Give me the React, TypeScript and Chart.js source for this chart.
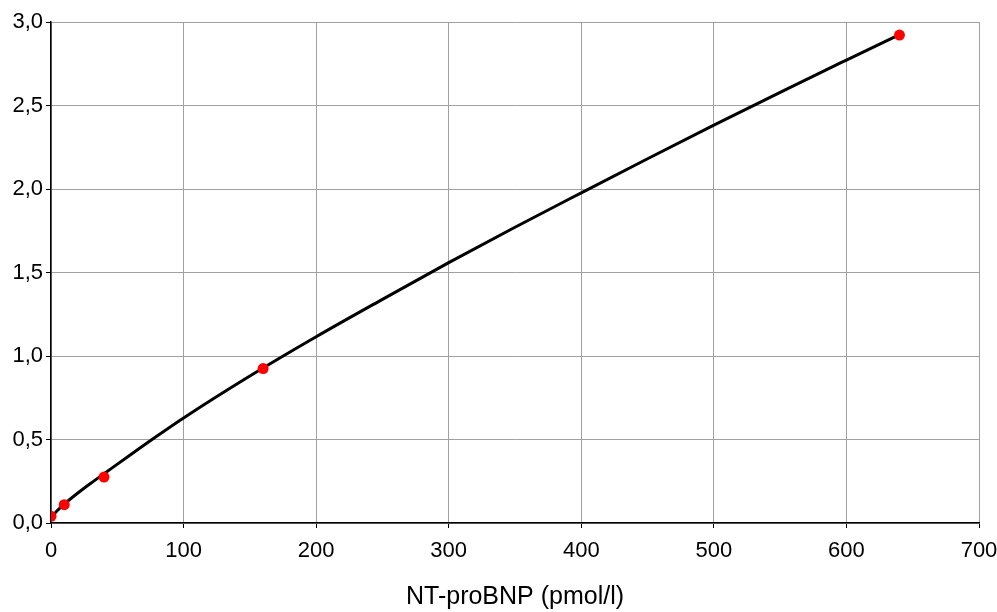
import React, { useEffect, useRef } from "react";
import { Chart, registerables } from "chart.js";

Chart.register(...registerables);

const pointX = [0, 10, 40, 160, 640];
const pointY = [0.04, 0.11, 0.275, 0.925, 2.922];

const curveX = [0, 2, 5, 10, 20, 30, 40, 60, 80, 100, 150, 200, 250, 300, 350, 400, 450, 500, 550, 600, 640];
const curveY = [0.03, 0.05, 0.076, 0.113, 0.178, 0.238, 0.295, 0.409, 0.521, 0.629, 0.88, 1.115, 1.339, 1.559, 1.771, 1.977, 2.181, 2.382, 2.579, 2.772, 2.925];

const xTitle = "NT-proBNP (pmol/l)";
const FONT = "'Liberation Sans', Arial, sans-serif";

export default function App() {
  const ref = useRef<HTMLCanvasElement>(null);
  useEffect(() => {
    document.body.style.margin = "0";
    const ctx = ref.current!;
    const chart = new Chart(ctx, {
      type: "scatter",
      data: {
        datasets: [
          {
            data: pointX.map((x, i) => ({ x, y: pointY[i] })),
            backgroundColor: "#ff0000",
            borderColor: "#ff0000",
            pointRadius: 5.5,
            pointHoverRadius: 5.5,
            borderWidth: 0,
            showLine: false,
            order: 0,
          },
          {
            data: curveX.map((x, i) => ({ x, y: curveY[i] })),
            borderColor: "#000000",
            borderWidth: 3,
            pointRadius: 0,
            showLine: true,
            cubicInterpolationMode: "monotone",
            order: 1,
          },
        ],
      },
      options: {
        animation: false,
        responsive: true,
        maintainAspectRatio: false,
        layout: { padding: { left: 0, top: 22, right: 18, bottom: 0 } },
        plugins: { legend: { display: false }, tooltip: { enabled: false } },
        scales: {
          x: {
            type: "linear",
            min: 0,
            max: 700,
            afterFit: (s: any) => {
              s.height = 89;
              s.paddingRight = 18;
              s.paddingLeft = 0;
            },
            ticks: {
              stepSize: 100,
              color: "#000",
              padding: 10,
              font: { family: FONT, size: 22 },
              maxRotation: 0,
            },
            grid: { color: "#a0a0a0", tickColor: "#000", tickLength: 5, lineWidth: 1 },
            border: { color: "#000", width: 1.5 },
            title: {
              display: true,
              text: xTitle,
              color: "#000",
              font: { family: FONT, size: 25 },
              padding: { top: 0, bottom: 0 },
            },
          },
          y: {
            type: "linear",
            min: 0,
            max: 3,
            afterFit: (s: any) => {
              s.width = 51;
            },
            ticks: {
              stepSize: 0.5,
              color: "#000",
              padding: 3,
              font: { family: FONT, size: 22 },
              callback: (v: any) => Number(v).toFixed(1).replace(".", ","),
            },
            grid: { color: "#a0a0a0", tickColor: "#000", tickLength: 5, lineWidth: 1 },
            border: { color: "#000", width: 1.5 },
          },
        },
      },
    });
    return () => chart.destroy();
  }, []);
  return (
    <div style={{ width: 997, height: 612, position: "relative" }}>
      <canvas ref={ref} />
    </div>
  );
}
